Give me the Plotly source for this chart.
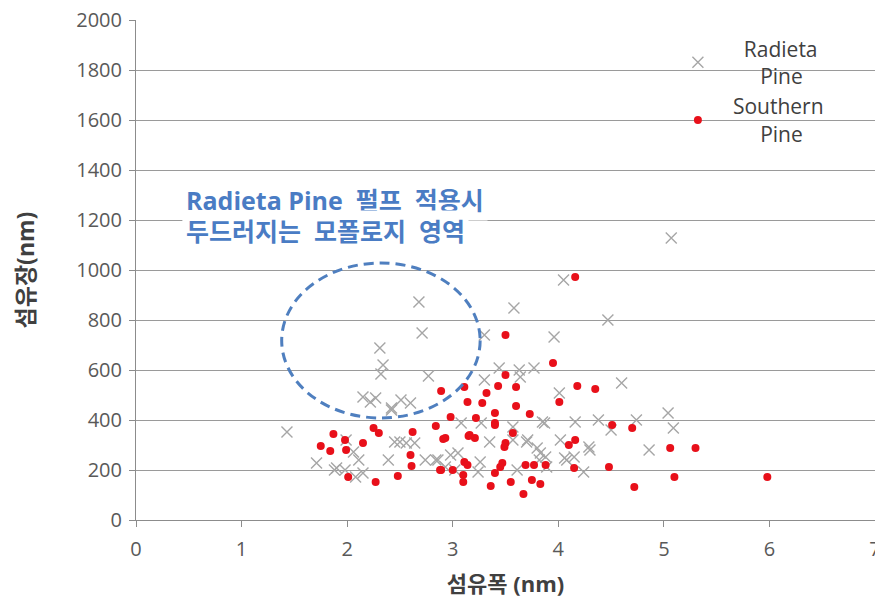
import plotly.graph_objects as go

# Fiber width (nm) / fiber length (nm) measurements per pulp type
radiata_width = [1.43, 1.71, 1.90, 1.98, 2.06, 2.11, 2.08, 2.15, 2.27, 2.51, 2.42,
                 2.31, 2.34, 2.32, 2.77, 2.68, 2.71, 3.30, 3.58, 4.05, 3.96, 3.44,
                 3.63, 3.77, 3.64, 3.30, 4.01, 4.47, 4.60, 5.07, 5.04, 5.09, 4.86,
                 4.30, 4.38, 4.50, 4.74, 4.16, 4.08, 4.24, 4.02, 3.85, 3.71, 3.83,
                 3.57, 3.35, 3.24, 2.86, 3.08, 4.15, 2.39, 2.50, 2.56, 2.64, 2.74,
                 2.84, 3.05, 3.02, 2.22, 2.42, 2.60, 1.99, 2.45, 1.88, 2.15, 3.27,
                 3.87, 3.57, 3.70, 3.80, 3.82, 3.88, 4.06, 4.29, 3.26, 2.98, 2.93,
                 3.61, 3.89]
radiata_length = [352, 228, 208, 200, 272, 240, 172, 492, 488, 480, 440,
                  688, 620, 584, 576, 872, 748, 740, 848, 960, 732, 608,
                  600, 608, 572, 560, 508, 800, 548, 1128, 428, 368, 280,
                  280, 400, 360, 400, 392, 240, 192, 320, 392, 320, 268,
                  372, 312, 192, 240, 388, 252, 240, 312, 308, 308, 240,
                  240, 268, 200, 472, 448, 468, 320, 312, 200, 188, 388,
                  388, 320, 312, 288, 240, 252, 248, 292, 232, 260, 212,
                  200, 212]

southern_width = [4.16, 3.50, 3.95, 2.89, 3.11, 3.50, 3.43, 3.60, 3.32, 4.18, 4.35,
                  4.01, 3.14, 3.28, 3.60, 3.40, 2.98, 3.73, 3.22, 2.84, 3.40, 2.93,
                  3.15, 3.21, 3.50, 3.49, 3.57, 4.10, 4.51, 4.70, 3.11, 3.14, 3.47,
                  3.45, 2.89, 3.00, 3.40, 3.69, 3.77, 4.15, 3.10, 3.10, 3.55, 3.75,
                  3.83, 3.36, 3.67, 4.72, 1.87, 1.75, 1.84, 1.98, 1.99, 2.15, 2.25,
                  2.30, 2.62, 2.60, 2.61, 2.01, 2.27, 2.48, 5.06, 5.30, 4.48, 5.10,
                  5.98, 3.88, 4.16, 3.40, 2.88, 2.91, 3.16]
southern_length = [972, 740, 628, 516, 532, 580, 536, 532, 508, 536, 524,
                   472, 472, 468, 456, 428, 412, 424, 408, 376, 380, 328,
                   336, 328, 308, 292, 348, 300, 380, 368, 232, 220, 228,
                   212, 200, 200, 188, 220, 220, 208, 180, 152, 152, 160,
                   144, 136, 104, 132, 344, 296, 276, 320, 280, 308, 368,
                   348, 352, 260, 216, 172, 152, 176, 288, 288, 212, 172,
                   172, 220, 320, 388, 200, 324, 340]

x_ticks = [0, 1, 2, 3, 4, 5, 6, 7]
y_ticks = [0, 200, 400, 600, 800, 1000, 1200, 1400, 1600, 1800, 2000]

# Highlighted morphology region (ellipse bounds in data units)
region_x = [1.38, 3.26]
region_y = [408, 1028]

nb = "\u00a0"
gap = nb * 2
note_lines = ["Radieta Pine" + gap + "펄프" + gap + "적용시",
              "두드러지는" + gap + "모폴로지" + gap + "영역"]
note_y = [1280, 1156]

font_main = "Open Sans, Noto Sans CJK KR, sans-serif"

fig = go.Figure()
fig.add_trace(go.Scatter(
    x=radiata_width, y=radiata_length, mode="markers",
    name=nb * 2 + "Radieta<br>" + nb * 5 + "Pine",
    marker=dict(symbol="x-thin-open", size=11, color="#a6a6a6",
                line=dict(width=1.4, color="#a6a6a6")),
))
fig.add_trace(go.Scatter(
    x=southern_width, y=southern_length, mode="markers",
    name="Southern<br>" + nb * 5 + "Pine",
    marker=dict(symbol="circle", size=8, color="#e8101a"),
))

# white panel behind the legend, hiding the gridlines there
fig.add_shape(type="rect", xref="paper", yref="paper", layer="between",
              x0=0.713, x1=1.0, y0=0.72, y1=0.982,
              fillcolor="white", line=dict(width=0))

fig.add_shape(type="circle", xref="x", yref="y", layer="above",
              x0=region_x[0], x1=region_x[1], y0=region_y[0], y1=region_y[1],
              line=dict(color="#4f7fbf", width=3, dash="10px,6px"))

for line_text, y_pos in zip(note_lines, note_y):
    fig.add_annotation(
        x=0.44, y=y_pos, xref="x", yref="y", showarrow=False,
        xanchor="left", yanchor="middle",
        text=line_text, bgcolor="white", borderpad=3,
        font=dict(family=font_main, size=25, color="#4a7cc4", weight="bold"),
    )

axis_common = dict(
    showline=True, linecolor="#8c8c8c", linewidth=1,
    ticks="outside", ticklen=6, tickcolor="#8c8c8c",
    tickfont=dict(family=font_main, size=20, color="#595959"),
    automargin=False, zeroline=False, ticklabeloverflow="allow",
)

fig.update_xaxes(range=[0, 7], tickvals=x_ticks, showgrid=False,
                 ticklabelstandoff=5,
                 title=dict(text="섬유폭 (nm)", standoff=15,
                            font=dict(family=font_main, size=22, color="#404040", weight="bold")),
                 **axis_common)
fig.update_yaxes(range=[0, 2000], tickvals=y_ticks, showgrid=True,
                 gridcolor="#9a9a9a", gridwidth=1.3, ticklabelstandoff=3,
                 title=dict(text="섬유장(nm)", standoff=35,
                            font=dict(family=font_main, size=23, color="#404040", weight="bold")),
                 **axis_common)

fig.update_layout(
    width=875, height=602,
    margin=dict(l=136, r=0, t=20, b=82),
    paper_bgcolor="white", plot_bgcolor="white",
    showlegend=True,
    legend=dict(x=0.713, y=0.983, xanchor="left", yanchor="top",
                bgcolor="rgba(0,0,0,0)", itemwidth=60,
                font=dict(family=font_main, size=21, color="#404040")),
)

fig.write_html("out.html")
